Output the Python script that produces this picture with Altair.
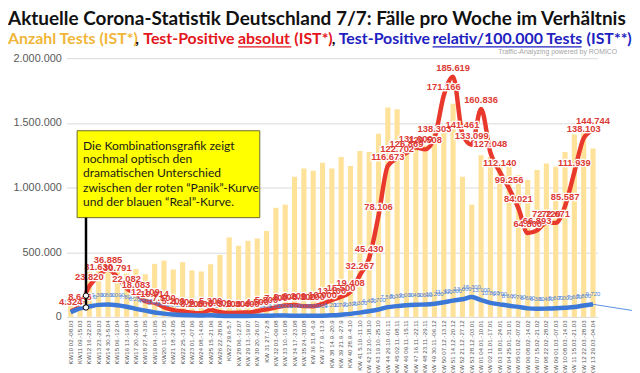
import altair as alt
import pandas as pd

weeks = [
    "KW10 02.-08.03", "KW11 09.-15.03", "KW12 16.-22.03", "KW13 23.-29.03", "KW14 30.3-5.04",
    "KW15 06.-12.04", "KW16 13.-19.04", "KW17 20.-26.04", "KW18 27.4-3.05", "KW19 04.-10.05",
    "KW20 11.-17.05", "KW21 18.-24.05", "KW22 25.-31.05", "KW23 01.-07.06", "KW24 08.-14.06",
    "KW25 15.-21.06", "KW26 22.-28.06", "KW27 29.6-5.7", "KW 28 06.-12.07", "KW 29 13.-19.07",
    "KW 30 20.-26.07", "KW 31 27.7-2.8", "KW 32 03.-09.08", "KW 33 10.-16.08", "KW 34 17.-23.08",
    "KW 35 24.-30.08", "KW 36 31.8.-6.9", "KW 37 7.9.-13.9", "KW 38 14.9.-20.9", "KW 39 21.9.-27.9",
    "KW 40 28.9.-4.10", "KW 41 5.10.-11.10", "KW 42 12.10.-18.10", "KW 43 19.10.-25.10",
    "KW 44 26.10.-01.11", "KW 45 02.11.-08.11", "KW 46 09.11.-15.11", "KW 47 16.11.-22.11",
    "KW 48 23.11.-29.11", "KW 49 30.11.-06.12", "KW 50 07.12.-13.12", "KW 51 14.12.-20.12",
    "KW 52 21.12.-27.12", "KW 53 28.12.-03.01", "KW 01 04.01.-10.01", "KW 02 11.01.-17.01",
    "KW 03 18.01.-24.01", "KW 04 25.01.-31.01", "KW 05 01.02.-07.02", "KW 06 08.02.-14.02",
    "KW 07 15.02.-21.02", "KW 08 22.02.-28.02", "KW 09 01.03.-07.03", "KW 10 08.03.-14.03",
    "KW 11 15.03.-21.03", "KW 12 22.03.-28.03", "KW 13 29.03.-04.04",
]

tests = [
    125000, 130000, 350000, 365000, 410000, 385000, 335000, 370000, 330000, 410000,
    435000, 366000, 423000, 359000, 351000, 407000, 479000, 614000, 550000, 588000,
    606000, 664000, 843000, 868000, 1084000, 1148000, 1130000, 1191000, 1148000, 1237000,
    1166000, 1283000, 1275000, 1415000, 1618000, 1606000, 1325000, 1290000, 1326000, 1420000,
    1480000, 1647000, 1084000, 868000, 1250000, 1237000, 1160000, 1173000, 1097000, 1059000,
    1135000, 1186000, 1160000, 1275000, 1410000, 1453000, 1301000,
]

positives = [
    4324, 8646, 23820, 31630, 36885, 30791, 22082, 18083, 12109, 10914,
    7500, 5200, 4300, 3200, 2800, 5300, 3600, 3100, 3300, 3400,
    4500, 5800, 7400, 8800, 9200, 8300, 8200, 10000, 13100, 15500,
    19408, 32267, 45430, 78106, 116673, 122702, 126869, 131000, 129508, 138303,
    171166, 185619, 141461, 133099, 160836, 127048, 112140, 99256, 84021, 64800,
    66893, 72720, 72671, 85587, 111939, 138103, 144744,
]

relative = [
    3500, 6500, 8000, 9300, 9600, 9000, 7800, 6200, 4800, 3400,
    2500, 1900, 1500, 1200, 1000, 1300, 900, 700, 700, 700,
    800, 900, 1000, 1000, 900, 800, 800, 900, 1200, 1700,
    2300, 3300, 4400, 5700, 7500, 8300, 9000, 9400, 9600, 10200,
    11300, 12600, 13600, 15300, 13000, 10800, 9700, 8600, 7700, 6600,
    6300, 6400, 6600, 7000, 7600, 8800, 9720,
]

box_lines = [
    "Die Kombinationsgrafik zeigt",
    "nochmal optisch den",
    "dramatischen Unterschied",
    "zwischen der roten \u201cPanik\u201d-Kurve",
    "und der blauen \u201cReal\u201d-Kurve.",
]

title_text = "Aktuelle Corona-Statistik Deutschland 7/7: F\u00e4lle pro Woche im Verh\u00e4ltnis"
sub_segments = ["Anzahl Tests (IST*)", ",", "Test-Positive", "absolut", "(IST*)", ",",
                "Test-Positive", "relativ/100.000 Tests", "(IST**)"]
sub_colors = ["#F0B63A", "#111111", "#E3161C", "#E3161C", "#E3161C", "#111111",
              "#1E22C0", "#1E22C0", "#1E22C0"]
# page x of each segment start
sub_page_x = [8, 137, 145, 241, 298, 336, 343, 438, 594]
sub_x = [p - 67 for p in sub_page_x]


def de(n):
    return f"{n:,}".replace(",", ".")


df = pd.DataFrame({"week": weeks, "tests": tests, "pos": positives, "rel": relative})
df["pos_lbl"] = [de(v) for v in positives]
df["rel_lbl"] = [de(v) for v in relative]

W, H = 538, 262

x_enc = alt.X(
    "week:N", sort=weeks,
    scale=alt.Scale(paddingInner=0.45, paddingOuter=0.2),
    axis=alt.Axis(title=None, labelAngle=-90, labelFontSize=6.2, labelColor="#595959",
                  ticks=False, domain=False, labelPadding=3, labelFont="Liberation Sans"),
)

base = alt.Chart(df)

bars = base.mark_bar(color="#FFE29A").encode(
    x=x_enc,
    y=alt.Y("tests:Q", scale=alt.Scale(domain=[0, 2000000], nice=False),
            axis=alt.Axis(title=None, values=[0, 500000, 1000000, 1500000, 2000000],
                          labelExpr="replace(format(datum.value, ','), regexp(',', 'g'), '.')",
                          grid=True, gridColor="#D9D9D9", ticks=False, domain=False,
                          labelFontSize=11, labelColor="#595959", labelPadding=5,
                          labelFont="Liberation Sans")),
)

ysec = alt.Scale(domain=[0, 200000], nice=False)

red_line = base.mark_line(color="#E8392C", strokeWidth=4.5, interpolate="monotone").encode(
    x=alt.X("week:N", sort=weeks), y=alt.Y("pos:Q", scale=ysec, axis=None))
blue_line = base.mark_line(color="#3C78D8", strokeWidth=4.5, interpolate="monotone").encode(
    x=alt.X("week:N", sort=weeks), y=alt.Y("rel:Q", scale=ysec, axis=None))

# thin continuation of the blue curve beyond the last week
tail = alt.Chart(df.tail(1)).mark_rule(color="#5B8FE0", strokeWidth=1).encode(
    x=alt.X("week:N", sort=weeks), x2=alt.value(573),
    y=alt.Y("rel:Q", scale=ysec, axis=None), y2=alt.value(255.5))

blue_lbl = base.mark_text(fontSize=6, color="#4A7FD6", dy=-10, font="Liberation Sans").encode(
    x=alt.X("week:N", sort=weeks), y=alt.Y("rel:Q", scale=ysec, axis=None), text="rel_lbl:N")

red_halo = base.mark_text(fontSize=9.5, fontWeight="bold", dy=-9, stroke="white",
                          strokeWidth=2.5, font="Liberation Sans", color="white").encode(
    x=alt.X("week:N", sort=weeks), y=alt.Y("pos:Q", scale=ysec, axis=None), text="pos_lbl:N")
red_lbl = base.mark_text(fontSize=9.5, fontWeight="bold", dy=-9, color="#DC3B35",
                         font="Liberation Sans").encode(
    x=alt.X("week:N", sort=weeks), y=alt.Y("pos:Q", scale=ysec, axis=None), text="pos_lbl:N")

# annotation box
ann = pd.DataFrame({"a": [0]})
box = alt.Chart(ann).mark_rect(fill="#FFFF00", stroke="#6B6B2E", strokeWidth=1).encode(
    x=alt.value(11), x2=alt.value(196), y=alt.value(73.5), y2=alt.value(161.5))
pointer = alt.Chart(ann).mark_rule(color="black", strokeWidth=2.5).encode(
    x=alt.value(20), y=alt.value(161.5), y2=alt.value(253))
dots_df = pd.DataFrame({"py": [240.5, 252.5]})
dots = alt.Chart(dots_df).mark_point(filled=True, fill="white", stroke="black", strokeWidth=1,
                                     size=30, opacity=1).encode(
    x=alt.value(20), y=alt.Y("py:Q", scale=None))

box_df = pd.DataFrame({"t": box_lines, "py": [88.5, 102.5, 116.5, 131.5, 145.5]})
box_txt = alt.Chart(box_df).mark_text(align="left", baseline="middle", fontSize=12.2,
                                      font="Lato", color="#1A1A1A").encode(
    x=alt.value(17), y=alt.Y("py:Q", scale=None), text="t:N")

# titles
t1 = alt.Chart(ann).mark_text(align="left", baseline="middle", fontSize=19.2, fontWeight="bold",
                              font="Lato", color="#111111", text=title_text).encode(
    x=alt.value(-59), y=alt.value(-39.5))
sub_df = pd.DataFrame({"t": sub_segments, "c": sub_colors, "px": sub_x})
t2 = alt.Chart(sub_df).mark_text(align="left", baseline="middle", fontSize=16.1, fontWeight="bold",
                                 font="Lato").encode(
    x=alt.X("px:Q", scale=None), y=alt.value(-19.5), text="t:N",
    color=alt.Color("c:N", scale=None))
und_df = pd.DataFrame({"x1": [sub_x[3], sub_x[7]], "x2": [sub_x[3] + 54, sub_x[7] + 151],
                       "c": [sub_colors[3], sub_colors[7]]})
underline = alt.Chart(und_df).mark_rule(strokeWidth=1.2).encode(
    x=alt.X("x1:Q", scale=None), x2="x2:Q", y=alt.value(-11.5),
    color=alt.Color("c:N", scale=None))

wm = alt.Chart(ann).mark_text(align="right", baseline="middle", fontSize=7, color="#A6A6A6",
                              font="Liberation Sans",
                              text="Traffic-Analyzing powered by ROMICO").encode(
    x=alt.value(558), y=alt.value(-6.5))

chart = alt.layer(
    bars, red_line, blue_line, tail, blue_lbl, red_halo, red_lbl,
    box, pointer, dots, box_txt, t1, t2, underline, wm,
).resolve_scale(y="independent").properties(
    width=W, height=H,
    autosize=alt.AutoSizeParams(type="none"),
    padding={"left": 59, "top": 48.5, "right": 35, "bottom": 54},
    background="white",
).configure_view(stroke=None)

chart.save("out.html", embed_options={"renderer": "svg", "actions": False})
